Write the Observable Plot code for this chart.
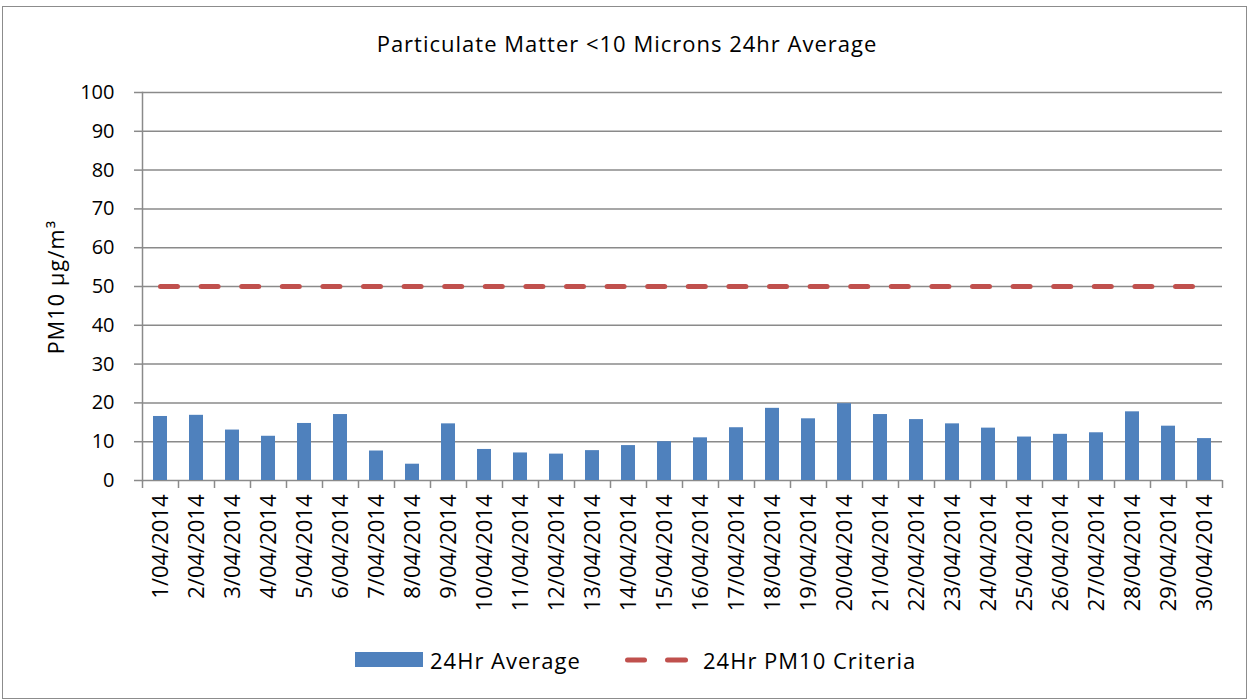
<!DOCTYPE html>
<html>
<head>
<meta charset="utf-8">
<script src="https://cdn.jsdelivr.net/npm/d3@7"></script>
<script src="https://cdn.jsdelivr.net/npm/@observablehq/plot@0.6"></script>
<style>
  body { margin: 0; background: #fff; }
  #frame { position: relative; width: 1250px; height: 700px; overflow: hidden; font-family: "Open Sans", Lato, sans-serif; color: #000; }
  #border { position: absolute; left: 2px; top: 6px; width: 1243px; height: 691px; border: 1.5px solid #8c8c8c; }
  #title { position: absolute; left: 0; top: 30px; width: 1254px; text-align: center; font-size: 22px; letter-spacing: 1px; line-height: 1.2; }
  #chart { position: absolute; left: 0; top: 0; }
  #ylabel { position: absolute; left: 55px; top: 287px; transform: translate(-50%, -50%) rotate(-90deg); font-size: 21.5px; letter-spacing: 1.2px; white-space: nowrap; }
  .leg { position: absolute; font-size: 22px; letter-spacing: 1px; line-height: 1; white-space: nowrap; }
</style>
</head>
<body>
<div id="frame">
  <div id="border"></div>
  <div id="title">Particulate Matter &lt;10 Microns 24hr Average</div>
  <div id="chart"></div>
  <div id="ylabel">PM10 μg/m³</div>
  <div id="legend"></div>
</div>
<script>
const days = ["1/04/2014","2/04/2014","3/04/2014","4/04/2014","5/04/2014","6/04/2014","7/04/2014","8/04/2014","9/04/2014","10/04/2014",
  "11/04/2014","12/04/2014","13/04/2014","14/04/2014","15/04/2014","16/04/2014","17/04/2014","18/04/2014","19/04/2014","20/04/2014",
  "21/04/2014","22/04/2014","23/04/2014","24/04/2014","25/04/2014","26/04/2014","27/04/2014","28/04/2014","29/04/2014","30/04/2014"];
const average24 = [16.5, 16.8, 13.0, 11.4, 14.7, 17.0, 7.6, 4.2, 14.6, 8.0,
  7.1, 6.8, 7.7, 9.0, 10.0, 11.0, 13.6, 18.6, 15.9, 19.8,
  17.0, 15.7, 14.6, 13.5, 11.2, 11.9, 12.3, 17.7, 14.0, 10.8];
const criteria = [50, 50, 50, 50, 50, 50, 50, 50, 50, 50,
  50, 50, 50, 50, 50, 50, 50, 50, 50, 50,
  50, 50, 50, 50, 50, 50, 50, 50, 50, 50];
const yTicks = [0, 10, 20, 30, 40, 50, 60, 70, 80, 90, 100];
const seriesNames = ["24Hr Average", "24Hr PM10 Criteria"];
const colors = ["#4F81BD", "#C0504D"];

const rows = days.map((d, i) => ({day: d, avg: average24[i], crit: criteria[i]}));

const W = 1250, H = 620, ML = 142, MR = 28, MT = 92, MB = 140;
const half = (W - ML - MR) / days.length / 2;
const grey = "#8a8a8a";

const chart = Plot.plot({
  width: W, height: H,
  marginLeft: ML, marginRight: MR, marginTop: MT, marginBottom: MB,
  style: {fontFamily: "'Open Sans', Lato, sans-serif", fontSize: "20px", color: "#000", background: "transparent", overflow: "visible"},
  x: {domain: days, padding: 0, axis: null},
  y: {domain: [0, 100], axis: null},
  marks: [
    Plot.gridY(yTicks, {stroke: grey, strokeOpacity: 1, strokeWidth: 1.5}),
    Plot.frame({anchor: "left", stroke: grey, strokeWidth: 1.5}),
    Plot.axisY(yTicks, {tickSize: 8, tickPadding: 20, stroke: grey, strokeWidth: 1.5, fill: "#000", fontSize: 20, label: null}),
    Plot.axisX({tickSize: 8, dx: -half, stroke: grey, strokeWidth: 1.5, tickFormat: () => "", label: null}),
    Plot.axisX([days[days.length - 1]], {tickSize: 8, dx: half, stroke: grey, strokeWidth: 1.5, tickFormat: () => "", label: null}),
    Plot.axisX({tickSize: 0, tickRotate: -90, tickPadding: 14, fill: "#000", fontSize: 22, label: null}),
    Plot.barY(rows, {x: "day", y: "avg", fill: colors[0], insetLeft: 11, insetRight: 11}),
    Plot.lineY(rows, {x: "day", y: "crit", stroke: colors[1], strokeWidth: 5, strokeDasharray: "17,23.6", strokeLinecap: "round"})
  ]
});
document.getElementById("chart").appendChild(chart);

// Legend
const legend = document.getElementById("legend");
legend.innerHTML = `
  <div class="leg" style="left:355px;top:652px;width:68px;height:15px;background:${colors[0]}"></div>
  <div class="leg" style="left:430px;top:649px;">${seriesNames[0]}</div>
  <svg class="leg" style="left:620px;top:650px;" width="75" height="20">
    <line x1="7.5" y1="10" x2="24.5" y2="10" stroke="${colors[1]}" stroke-width="5" stroke-linecap="round"/>
    <line x1="47.5" y1="10" x2="65.5" y2="10" stroke="${colors[1]}" stroke-width="5" stroke-linecap="round"/>
  </svg>
  <div class="leg" style="left:703px;top:649px;">${seriesNames[1]}</div>`;
</script>
</body>
</html>
